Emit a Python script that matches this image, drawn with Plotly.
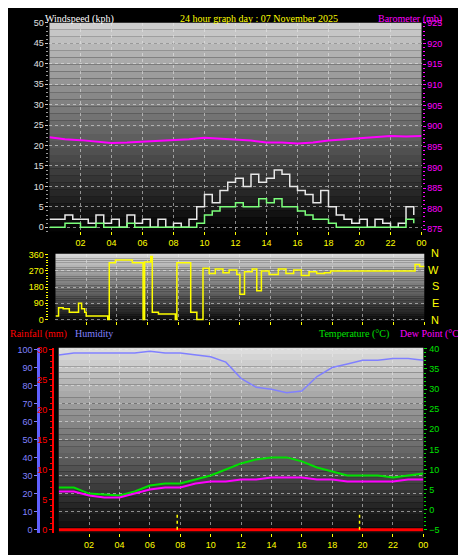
import plotly.graph_objects as go

# ---- data ----
half_hours = [h / 2 for h in range(48)]
gust = [2, 2, 3, 2, 2, 1, 3, 1, 2, 0, 3, 1, 2, 0, 2, 0,
        1, 0, 2, 5, 8, 6, 9, 11, 12, 10, 13, 11, 12, 14, 13, 10,
        9, 8, 6, 9, 5, 3, 2, 1, 2, 0, 2, 1, 0, 1, 5, 3]
avg_wind = [0, 0, 1, 1, 0, 0, 1, 0, 0, 0, 1, 0, 0, 0, 0, 0,
            0, 0, 0, 1, 3, 4, 5, 5, 6, 5, 5, 7, 6, 7, 5, 5,
            4, 3, 2, 2, 1, 0, 0, 0, 0, 0, 0, 0, 0, 0, 2, 1]

hours = list(range(25))
baro = [897.3, 896.8, 896.6, 896.3, 895.9, 896.0, 896.2, 896.3, 896.5, 896.8, 897.2, 897.0, 896.8,
        896.5, 896.0, 896.0, 895.8, 896.0, 896.5, 896.8, 897.1, 897.4, 897.6, 897.5, 897.6]

dir_hours = [0, 0.2, 0.5, 0.9, 1.4, 1.5, 1.7, 1.9, 2.0, 2.9, 3.4, 3.5, 3.9, 4.9, 5.0, 5.6, 5.7, 5.8, 6.2,
             6.3, 6.6, 6.7, 7.7, 7.8, 7.9, 8.7, 8.8, 9.1, 9.2, 9.6, 10.0, 10.4, 10.9, 11.3, 11.8, 12.0,
             12.3, 12.8, 13.1, 13.4, 13.9, 14.5, 15.0, 15.5, 16.0, 16.5, 17.0, 17.5, 17.9, 20.0, 23.0,
             23.4, 23.7, 24.0]
dir_deg = [20, 65, 60, 40, 40, 90, 60, 40, 20, 20, 0, 315, 330, 330, 315, 315, 0, 320, 350,
           40, 40, 30, 30, 0, 315, 315, 40, 40, 0, 285, 255, 280, 260, 275, 250, 140,
           265, 280, 160, 270, 250, 280, 255, 275, 245, 265, 255, 260, 270, 270, 270,
           305, 295, 290]

humidity = [97, 98, 98, 98, 98, 98, 99, 98, 98, 97, 96, 93, 84, 79, 78, 76, 77, 85, 90, 92, 94, 94, 95, 95, 94]
temperature = [5.5, 5.5, 4, 3.8, 3.5, 4.5, 6, 6.5, 6.5, 7.5, 8.5, 10, 11.5, 12.5, 13, 13, 12, 10.5,
               9.5, 8.5, 8.5, 8.5, 8, 8.5, 9]
dew_point = [4.5, 4.5, 3.5, 3, 3, 4, 5, 5.5, 5.5, 6.5, 7, 7, 7.5, 7.5, 8, 8, 8, 7.5, 7.5, 7, 7, 7, 7, 7.5, 7.5]
rainfall = [0] * 25

hour_ticks = list(range(2, 25, 2))
hour_labels = ["02", "04", "06", "08", "10", "12", "14", "16", "18", "20", "22", "00"]
compass = ["N", "W", "S", "E", "N"]

fig = go.Figure()

fig.add_trace(go.Scatter(x=half_hours, y=gust, line=dict(color="#e8e8e8", width=1.5, shape="hv"),
                         xaxis="x", yaxis="y"))
fig.add_trace(go.Scatter(x=half_hours, y=avg_wind, line=dict(color="#7cff7c", width=1.5, shape="hv"),
                         xaxis="x", yaxis="y"))
fig.add_trace(go.Scatter(x=hours, y=baro, line=dict(color="#ff00ff", width=2), xaxis="x", yaxis="y2"))

fig.add_trace(go.Scatter(x=dir_hours, y=dir_deg, line=dict(color="#ffff00", width=1.5, shape="hv"),
                         xaxis="x2", yaxis="y3"))

fig.add_trace(go.Scatter(x=hours, y=humidity, line=dict(color="#8080ff", width=1.5), xaxis="x3", yaxis="y4"))
fig.add_trace(go.Scatter(x=hours, y=rainfall, line=dict(color="#ff0000", width=3), xaxis="x3", yaxis="y5"))
fig.add_trace(go.Scatter(x=hours, y=temperature, line=dict(color="#00e000", width=2), xaxis="x3", yaxis="y6"))
fig.add_trace(go.Scatter(x=hours, y=dew_point, line=dict(color="#ff00ff", width=2), xaxis="x3", yaxis="y6"))

# gradient backgrounds
shapes = []
bands = 30
for xr, yr, top, bot in [("x", "y", 205, 5), ("x2", "y3", 215, 15), ("x3", "y4", 220, 10)]:
    for i in range(bands):
        c = int(top + (bot - top) * i / (bands - 1))
        shapes.append(dict(type="rect", xref=xr + " domain", yref=yr + " domain", layer="below",
                           x0=0, x1=1, y0=1 - (i + 1) / bands, y1=1 - i / bands,
                           fillcolor=f"rgb({c},{c},{c})", line_width=0))
for h in [7.8, 19.8]:
    shapes.append(dict(type="line", xref="x3", yref="y4", x0=h, x1=h, y0=0, y1=9,
                       line=dict(color="#ffff00", width=1.5, dash="dot")))
fig.update_layout(shapes=shapes)

tick_font = dict(family="Liberation Sans", size=9)
grid = dict(showgrid=True, gridcolor="rgba(235,235,235,0.55)", griddash="dot", gridwidth=1, zeroline=False)
xcommon = dict(range=[0, 24], tickvals=hour_ticks, ticktext=hour_labels, tickfont=dict(color="#ffff00", **tick_font),
               ticks="outside", ticklen=3, tickcolor="#ffff00", **grid)

fig.update_layout(
    width=466, height=555, margin=dict(l=0, r=0, t=0, b=0),
    paper_bgcolor="black", plot_bgcolor="black", showlegend=False,
    font=dict(family="Liberation Sans", size=10),
    xaxis=dict(domain=[0.090, 0.897], anchor="y", **xcommon),
    yaxis=dict(domain=[0.600, 0.982], range=[-1, 50], tickvals=list(range(0, 51, 5)),
               tickfont=dict(color="#e0e0e0", **tick_font), ticks="outside", ticklen=3, tickcolor="#cccccc",
               minor=dict(ticks="outside", ticklen=2, tickcolor="#999999", dtick=1), **grid),
    yaxis2=dict(overlaying="y", side="right", anchor="x", range=[874.5, 925], tickvals=list(range(875, 926, 5)),
                tickfont=dict(color="#ff00ff", **tick_font), ticks="outside", ticklen=3, tickcolor="#ff00ff",
                minor=dict(ticks="outside", ticklen=2, tickcolor="#ff00ff", dtick=1), showgrid=False, zeroline=False),
    xaxis2=dict(domain=[0.103, 0.903], anchor="y3", showticklabels=False,
                **{k: v for k, v in xcommon.items() if k != "tickfont"}),
    yaxis3=dict(domain=[0.436, 0.559], range=[-8, 365], tickvals=[0, 90, 180, 270, 360],
                tickfont=dict(color="#ffff00", **tick_font), ticks="outside", ticklen=3, tickcolor="#ffff00",
                minor=dict(ticks="outside", ticklen=2, tickcolor="#ffff00", dtick=15), **grid),
    xaxis3=dict(domain=[0.110, 0.901], anchor="y4", **xcommon),
    yaxis4=dict(domain=[0.047, 0.387], range=[-2, 101], tickvals=list(range(0, 101, 10)), anchor="free",
                position=0.066, tickfont=dict(color="#8080ff", **tick_font), ticks="outside", ticklen=3,
                tickcolor="#8080ff", showline=True, linecolor="#6060ff", linewidth=3, **grid),
    yaxis5=dict(overlaying="y4", anchor="free", position=0.098, range=[-0.6, 30.3], tickvals=list(range(0, 31, 5)),
                tickfont=dict(color="#ff0000", **tick_font), ticks="outside", ticklen=3, tickcolor="#ff0000",
                minor=dict(ticks="outside", ticklen=2, tickcolor="#ff0000", dtick=1),
                showline=True, linecolor="#ff0000", linewidth=2, showgrid=False, zeroline=False),
    yaxis6=dict(overlaying="y4", side="right", anchor="x3", range=[-5.9, 40.3], tickvals=list(range(-5, 41, 5)),
                tickfont=dict(color="#00e000", **tick_font), ticks="outside", ticklen=3, tickcolor="#00e000",
                minor=dict(ticks="outside", ticklen=2, tickcolor="#00e000", dtick=1), showgrid=False, zeroline=False),
)

ann = [
    (35, 6, "Windspeed (kph)", "white", "left"),
    (172, 6, "24 hour graph day : 07 November 2025", "#ffff00", "left"),
    (372, 6, "Barometer (mb)", "#ff00ff", "left"),
    (0, 326, "Rainfall (mm)", "#ff0000", "left"),
    (66, 326, "Humidity", "#8080ff", "left"),
    (312, 326, "Temperature (°C)", "#00e000", "left"),
    (394, 326, "Dew Point (°C)", "#ff00ff", "left"),
]
for x, y, t, c, a in ann:
    fig.add_annotation(x=x / 466, y=1 - y / 555, xref="paper", yref="paper", text=t, showarrow=False,
                       xanchor=a, yanchor="middle", font=dict(color=c, size=10, family="Liberation Sans Narrow"))
for i, lab in enumerate(compass):
    fig.add_annotation(x=438 / 466, y=1 - (244 + i * 17) / 555, xref="paper", yref="paper", text=lab,
                       showarrow=False, font=dict(color="#ffff00", size=11, family="Liberation Sans"))

fig.write_html("out.html")
